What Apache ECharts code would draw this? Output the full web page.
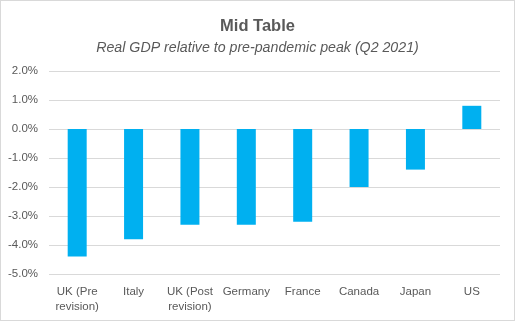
<!DOCTYPE html>
<html><head><meta charset="utf-8">
<script src="https://cdn.jsdelivr.net/npm/echarts@6/dist/echarts.min.js"></script>
<style>html,body{margin:0;padding:0;background:#fff}#c{width:513px;height:319px;border:1px solid #d9d9d9}</style>
</head><body><div id="c"></div>
<script>
const categories = ["UK (Pre\nrevision)", "Italy", "UK (Post\nrevision)", "Germany", "France", "Canada", "Japan", "US"];
const values = [-4.4, -3.8, -3.3, -3.3, -3.2, -2.0, -1.4, 0.8];
const titleText = "Mid Table";
const subtitleText = "Real GDP relative to pre-pandemic peak (Q2 2021)";
const chart = echarts.init(document.getElementById('c'));
chart.setOption({
  animation: false,
  title: {
    text: titleText, subtext: subtitleText, left: 'center', top: 12, itemGap: 6,
    textStyle: {fontFamily: 'Liberation Sans', fontSize: 16.5, fontWeight: 'bold', color: '#595959'},
    subtextStyle: {fontFamily: 'Liberation Sans', fontSize: 14.2, fontStyle: 'italic', color: '#595959'}
  },
  grid: {left: 48, right: 14, top: 70, bottom: 46},
  xAxis: {
    type: 'category', data: categories, position: 'bottom',
    axisLine: {show: false, onZero: false}, axisTick: {show: false},
    axisLabel: {fontFamily: 'Liberation Sans', fontSize: 11.5, color: '#595959', margin: 10, lineHeight: 15, interval: 0}
  },
  yAxis: {
    type: 'value', min: -5, max: 2, interval: 1,
    axisLine: {show: false}, axisTick: {show: false},
    splitLine: {lineStyle: {color: '#d9d9d9', width: 1}},
    axisLabel: {fontFamily: 'Liberation Sans', fontSize: 11.5, color: '#595959', margin: 11,
      formatter: v => v.toFixed(1) + '%'}
  },
  series: [{type: 'bar', data: values, barWidth: 19, itemStyle: {color: '#00B0F0'}}]
});
</script></body></html>
